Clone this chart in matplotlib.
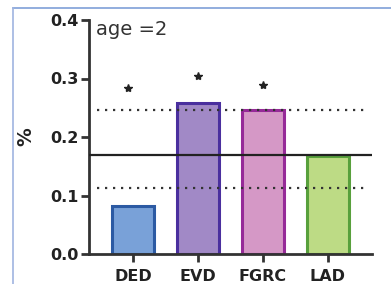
import matplotlib
matplotlib.use('Agg')
import matplotlib.pyplot as plt
from matplotlib.lines import Line2D

# data
groups = ['DED', 'EVD', 'FGRC', 'LAD']
values = [0.082, 0.258, 0.246, 0.168]
star_y = [0.284, 0.304, 0.289]
star_x = [-0.08, 0.0, 0.0]
mean_line = 0.170
upper_line = 0.246
lower_line = 0.113

fills = ['#79a1d8', '#a189c6', '#d598c6', '#bddb85']
edges = ['#2c5aa3', '#4a2f9e', '#962a98', '#58a03c']

plt.rcParams['font.family'] = ['DejaVu Sans']

fig = plt.figure(figsize=(3.91, 2.84), dpi=100)
ax = fig.add_axes([89/391, 1 - 254/284, (372 - 89)/391, (254 - 20)/284])

x = list(range(len(groups)))
ax.bar(x, values, width=0.64, color=fills, edgecolor=edges, linewidth=2.2, zorder=2)

# reference lines
ax.axhline(mean_line, xmin=0.0, xmax=1.0, color='#222222', lw=1.6, zorder=3)
ax.axhline(upper_line, xmin=0.03, xmax=0.99, color='#333333', lw=1.6, ls=(0, (1, 2.6)), zorder=3)
ax.axhline(lower_line, xmin=0.03, xmax=0.99, color='#333333', lw=1.6, ls=(0, (1, 2.6)), zorder=3)

# significance stars
for i in range(len(star_y)):
    ax.plot(x[i] + star_x[i], star_y[i], marker='*', ms=6, color='#222222', ls='none')

ax.text(0.025, 1.0, 'age =2', transform=ax.transAxes, fontsize=14, color='#333333',
        va='top', ha='left')

ax.set_xlim(-0.68, 3.68)
ax.set_ylim(0, 0.4)
ax.set_yticks([0.0, 0.1, 0.2, 0.3, 0.4])
ax.set_yticklabels(['0.0', '0.1', '0.2', '0.3', '0.4'])
ax.set_xticks(x)
ax.set_xticklabels(groups)
for lab in ax.get_xticklabels() + ax.get_yticklabels():
    lab.set_fontweight('bold')
    lab.set_fontsize(11.5)
    lab.set_color('#222222')
ax.set_ylabel('%', fontsize=13.5, fontweight='bold', color='#222222', labelpad=11)

for s in ['top', 'right']:
    ax.spines[s].set_visible(False)
for s in ['left', 'bottom']:
    ax.spines[s].set_linewidth(2)
    ax.spines[s].set_color('#333333')
ax.tick_params(width=2, length=6, color='#333333', pad=1.5)
ax.tick_params(axis='x', pad=5)

# light blue frame of the screenshot
fig.add_artist(Line2D([13/391, 1], [1 - 8/284, 1 - 8/284], color='#7f9fd8', lw=1.2))
fig.add_artist(Line2D([13/391, 13/391], [0, 1 - 8/284], color='#9fb4e0', lw=1.2))

fig.savefig('out.png', dpi=100)
